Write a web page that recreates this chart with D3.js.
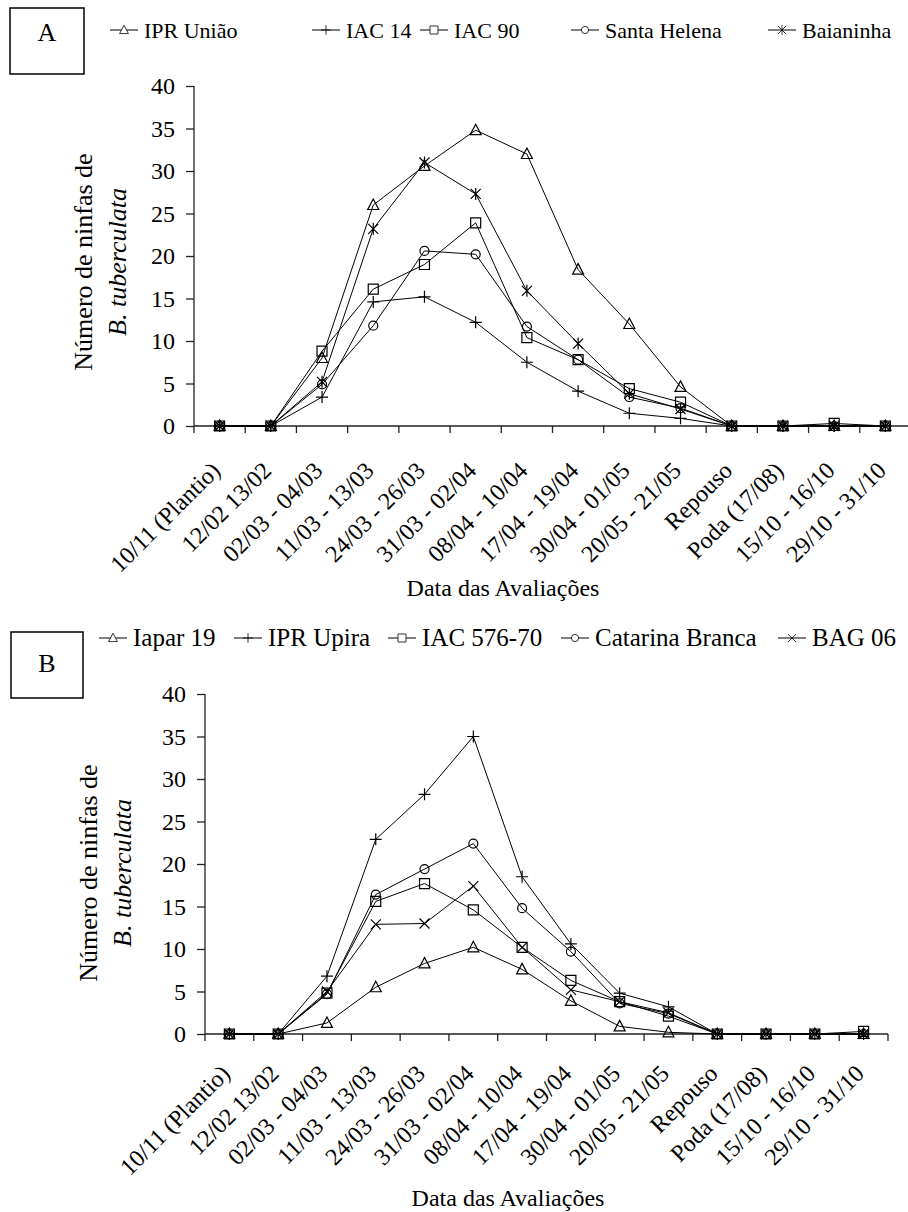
<!DOCTYPE html>
<html>
<head>
<meta charset="utf-8">
<script src="https://cdn.jsdelivr.net/npm/d3@7"></script>
<style>
  body { margin: 0; background: #fff; }
  svg { display: block; }
</style>
</head>
<body>
<div id="chart"></div>
<script>
// x categories (same for both panels)
const categories = ["10/11 (Plantio)", "12/02 13/02", "02/03 - 04/03", "11/03 - 13/03",
  "24/03 - 26/03", "31/03 - 02/04", "08/04 - 10/04", "17/04 - 19/04", "30/04 - 01/05",
  "20/05 - 21/05", "Repouso", "Poda (17/08)", "15/10 - 16/10", "29/10 - 31/10"];
const yTicks = [0, 5, 10, 15, 20, 25, 30, 35, 40];

// panel A
const namesA = ["IPR União", "IAC 14", "IAC 90", "Santa Helena", "Baianinha"];
const iprUniao    = [0, 0, 8.0, 26.0, 30.6, 34.8, 32.0, 18.4, 12.0, 4.6, 0, 0, 0, 0];
const iac14       = [0, 0, 3.4, 14.6, 15.2, 12.2, 7.5, 4.1, 1.5, 0.9, 0, 0, 0, 0];
const iac90       = [0, 0, 8.8, 16.1, 19.0, 23.9, 10.4, 7.8, 4.4, 2.8, 0, 0, 0.3, 0];
const santaHelena = [0, 0, 4.9, 11.8, 20.6, 20.2, 11.7, 7.8, 3.4, 2.1, 0, 0, 0, 0];
const baianinha   = [0, 0, 5.2, 23.2, 31.0, 27.3, 15.9, 9.7, 3.8, 2.0, 0, 0, 0, 0];

// panel B
const namesB = ["Iapar 19", "IPR Upira", "IAC 576-70", "Catarina Branca", "BAG 06"];
const iapar19        = [0, 0, 1.3, 5.5, 8.3, 10.2, 7.6, 3.9, 0.9, 0.2, 0, 0, 0, 0];
const iprUpira       = [0, 0, 6.8, 22.9, 28.2, 35.0, 18.5, 10.6, 4.8, 3.2, 0, 0, 0, 0];
const iac57670       = [0, 0, 4.8, 15.6, 17.7, 14.6, 10.2, 6.3, 3.8, 2.1, 0, 0, 0, 0.3];
const catarinaBranca = [0, 0, 4.7, 16.4, 19.4, 22.4, 14.8, 9.7, 3.6, 2.4, 0, 0, 0, 0];
const bag06          = [0, 0, 5.0, 12.9, 13.0, 17.4, 10.2, 5.2, 3.8, 2.5, 0, 0, 0, 0];

const W = 908, H = 1212;
const FONT = "'Liberation Serif', Tinos, 'Times New Roman', 'DejaVu Serif', serif";

// marker shapes
const shapes = {
  triangle: "M0,-6L5.5,4.5L-5.5,4.5Z",
  plus: "M-6,0H6M0,-6V6",
  square: "M-5,-5H5V5H-5Z",
  circle: "M4.5,0A4.5,4.5 0 1,1 -4.5,0A4.5,4.5 0 1,1 4.5,0Z",
  star: "M-5,-5L5,5M-5,5L5,-5M0,-6V6",
  cross: "M-5,-5L5,5M-5,5L5,-5"
};

const svg = d3.select("#chart").append("svg")
  .attr("width", W)
  .attr("height", H)
  .attr("font-family", FONT);

function addText(g, x, y, str, size, rot, anchor) {
  return g.append("text")
    .attr("transform", `translate(${x},${y})` + (rot ? ` rotate(${rot})` : ""))
    .attr("text-anchor", anchor || "start")
    .attr("font-family", FONT)
    .attr("font-size", size)
    .attr("fill", "#000")
    .text(str);
}

function drawPanel(p) {
  const g = svg.append("g");

  const x = d3.scaleBand().domain(categories).range([p.x0, p.x1]);
  const y = d3.scaleLinear().domain([0, 40]).range([p.yBot, p.yTop]);

  // y axis
  g.append("g")
    .attr("transform", `translate(${p.x0},0)`)
    .call(d3.axisLeft(y).tickValues(yTicks).tickSize(8).tickFormat(""))
    .call(a => a.select(".domain").attr("d", `M0,${p.yTop}V${p.yBot}`))
    .selectAll("line, path").attr("stroke", "#222").attr("stroke-width", 1.3);

  yTicks.forEach(t => {
    addText(g, p.x0 - 19, y(t) + 8, String(t), 24, 0, "end");
  });

  // x axis line + ticks between categories
  g.append("line")
    .attr("x1", p.x0).attr("x2", p.x1)
    .attr("y1", p.yBot).attr("y2", p.yBot)
    .attr("stroke", "#222").attr("stroke-width", 1.3);
  d3.range(categories.length + 1).forEach(i => {
    const xx = p.x0 + i * x.step();
    g.append("line")
      .attr("x1", xx).attr("x2", xx)
      .attr("y1", p.yBot).attr("y2", p.yBot + 7)
      .attr("stroke", "#222").attr("stroke-width", 1.3);
  });

  categories.forEach(c => {
    addText(g, x(c) + x.bandwidth() / 2 + 2, p.yBot + p.labOff, c, 24, -45, "end");
  });

  // axis titles
  addText(g, p.xTitleX, p.xTitleY, "Data das Avaliações", 24, 0, "middle");
  const yl = addText(g, p.yLabX, p.yLabY, "", 26, -90, "middle");
  yl.append("tspan").attr("x", 0).attr("dy", 0).text("Número de ninfas de");
  yl.append("tspan").attr("x", 0).attr("dy", "1.3em")
    .attr("font-style", "italic").text("B. tuberculata");

  // series
  const line = d3.line()
    .x((d, i) => x(categories[i]) + x.bandwidth() / 2)
    .y(d => y(d));

  p.series.forEach(s => {
    g.append("path")
      .datum(s.values)
      .attr("d", line)
      .attr("fill", "none")
      .attr("stroke", "#000")
      .attr("stroke-width", 1);
  });
  p.series.forEach(s => {
    g.selectAll(null)
      .data(s.values)
      .join("path")
      .attr("transform", (d, i) => `translate(${x(categories[i]) + x.bandwidth() / 2},${y(d)})`)
      .attr("d", shapes[s.shape])
      .attr("fill", "none")
      .attr("stroke", "#000")
      .attr("stroke-width", 1.2);
  });

  // legend
  p.series.forEach((s, i) => {
    const tx = p.legX[i];
    g.append("line")
      .attr("x1", tx - 34).attr("x2", tx - 6)
      .attr("y1", p.legY).attr("y2", p.legY)
      .attr("stroke", "#000").attr("stroke-width", 1);
    g.append("path")
      .attr("transform", `translate(${tx - 20},${p.legY}) scale(0.8)`)
      .attr("d", shapes[s.shape])
      .attr("fill", "#fff")
      .attr("stroke", "#000")
      .attr("stroke-width", 1);
    addText(g, tx, p.legY + 8, s.name, p.legSize, 0, "start");
  });

  // panel letter box
  g.append("rect")
    .attr("x", p.box[0]).attr("y", p.box[1])
    .attr("width", p.box[2]).attr("height", p.box[3])
    .attr("fill", "none").attr("stroke", "#000").attr("stroke-width", 1.5);
  addText(g, p.box[0] + p.box[2] / 2, p.letterY, p.letter, 26, 0, "middle");
}

drawPanel({
  letter: "A", box: [10, 8, 74, 66], letterY: 41,
  x0: 194, x1: 911, yTop: 86, yBot: 426, labOff: 46,
  xTitleX: 503, xTitleY: 596, yLabX: 92, yLabY: 262,
  legY: 30, legSize: 22, legX: [144, 346, 454, 605, 802],
  series: [
    {name: namesA[0], values: iprUniao, shape: "triangle"},
    {name: namesA[1], values: iac14, shape: "plus"},
    {name: namesA[2], values: iac90, shape: "square"},
    {name: namesA[3], values: santaHelena, shape: "circle"},
    {name: namesA[4], values: baianinha, shape: "star"}
  ]
});

drawPanel({
  letter: "B", box: [11, 632, 72, 66], letterY: 672,
  x0: 205, x1: 888, yTop: 694, yBot: 1034, labOff: 41,
  xTitleX: 508, xTitleY: 1206, yLabX: 97, yLabY: 873,
  legY: 638, legSize: 25, legX: [133, 268, 422, 595, 812],
  series: [
    {name: namesB[0], values: iapar19, shape: "triangle"},
    {name: namesB[1], values: iprUpira, shape: "plus"},
    {name: namesB[2], values: iac57670, shape: "square"},
    {name: namesB[3], values: catarinaBranca, shape: "circle"},
    {name: namesB[4], values: bag06, shape: "cross"}
  ]
});
</script>
</body>
</html>
